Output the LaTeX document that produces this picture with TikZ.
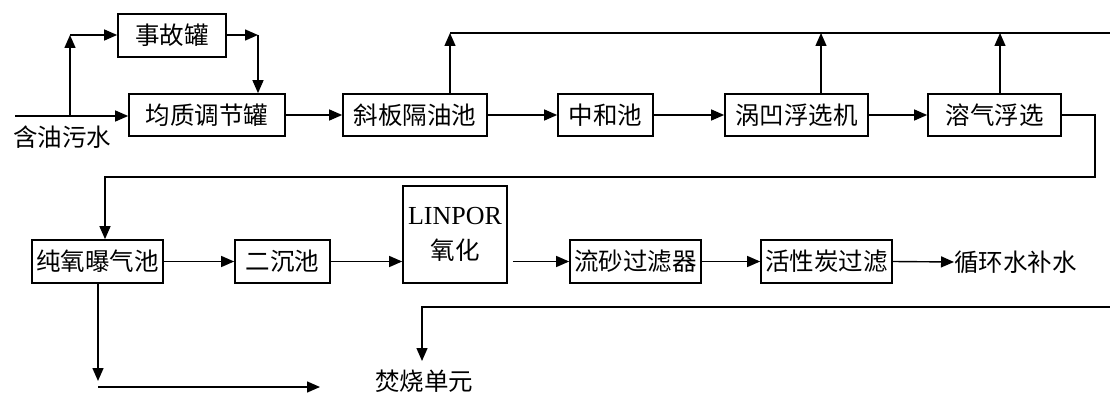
\documentclass[tikz,border=0pt]{standalone}
\usepackage{fontspec}
\setmainfont{Liberation Serif}
\newfontfamily\cjk{Noto Sans CJK SC}
\usetikzlibrary{arrows.meta}
\begin{document}
\begin{tikzpicture}[x=1pt,y=-1pt,
  box/.style={draw, line width=1.7pt, inner sep=0pt, minimum height=42pt, font=\cjk\fontsize{24.5}{27}\selectfont},
  lbl/.style={inner sep=0pt, font=\cjk\fontsize{24.5}{27}\selectfont},
  arr/.style={line width=1.4pt, -{Triangle[length=13pt,width=11pt]}},
  ln/.style={line width=1.4pt}]
\useasboundingbox (0,0) rectangle (1110,393);
% nodes
\node[box, minimum width=108pt, minimum height=43pt] (sg) at (172,35.5) {事故罐};
\node[box, minimum width=156pt] (jz) at (207,115) {均质调节罐};
\node[box, minimum width=144pt] (xb) at (415,115) {斜板隔油池};
\node[box, minimum width=95pt] (zh) at (605.5,115) {中和池};
\node[box, minimum width=143pt] (wt) at (796.5,115) {涡凹浮选机};
\node[box, minimum width=133pt] (rq) at (994.5,115) {溶气浮选};
\node[box, minimum width=131pt, minimum height=43pt] (cy) at (97.5,261.5) {纯氧曝气池};
\node[box, minimum width=95pt, minimum height=43pt] (ec) at (282.5,261.5) {二沉池};
\node[box, minimum width=104pt, minimum height=97pt, align=center] (lp) at (455,234.5) {{\rmfamily\fontsize{26}{28}\selectfont LINPOR}\\[8pt]氧化};
\node[box, minimum width=131pt, minimum height=43pt] (ls) at (635.5,261.5) {流砂过滤器};
\node[box, minimum width=131pt, minimum height=43pt] (hx) at (826.5,261.5) {活性炭过滤};
\node[lbl, anchor=west] (xh) at (954,262) {循环水补水};
\node[lbl] (fs) at (424,381) {焚烧单元};
\node[lbl] (hy) at (62,137) {含油污水};
% coordinates
\coordinate (in) at (15,116);
\coordinate (br) at (70,116);
\coordinate (c1) at (70,35);
\coordinate (c2) at (258,35);
\coordinate (u1) at (450,33);
\coordinate (u2) at (821,33);
\coordinate (u3) at (1000,33);
\coordinate (te) at (1110,33);
\coordinate (r1) at (1095,177);
\coordinate (r2) at (105,177);
\coordinate (b1) at (1110,307);
\coordinate (b2) at (422,307);
\coordinate (b3) at (422,361);
\coordinate (d1) at (98,381);
\coordinate (d2) at (98,387);
\coordinate (d3) at (320,387);
% connectors
\draw[arr] (in) -- (in -| jz.west);
\draw[arr] (br) -- (c1);
\draw[arr] (c1) -- (c1 -| sg.west);
\draw[arr] (sg.east |- c2) -- (c2);
\draw[arr] (c2) -- (c2 |- jz.north);
\draw[arr] (jz.east) -- (xb.west);
\draw[arr] (xb.east) -- (zh.west);
\draw[arr] (zh.east) -- (wt.west);
\draw[arr] (wt.east) -- (rq.west);
\draw[ln] (u1) -- (te);
\draw[arr] (u1 |- xb.north) -- (u1);
\draw[arr] (u2 |- wt.north) -- (u2);
\draw[arr] (u3 |- rq.north) -- (u3);
\draw[arr] (rq.east) -| (r1) -- (r2) -- (r2 |- cy.north);
\draw[arr] (cy.east) -- (ec.west);
\draw[arr] (ec.east) -- (ec.east -| lp.west);
\draw[arr, shorten <=5pt] (ls.west -| lp.east) -- (ls.west);
\draw[arr] (ls.east) -- (hx.west);
\draw[arr] (hx.east) -- (xh.west);
\draw[arr] (b1) -- (b2) -- (b3);
\draw[arr] (d1 |- cy.south) -- (d1);
\draw[arr] (d2) -- (d3);
\end{tikzpicture}
\end{document}
